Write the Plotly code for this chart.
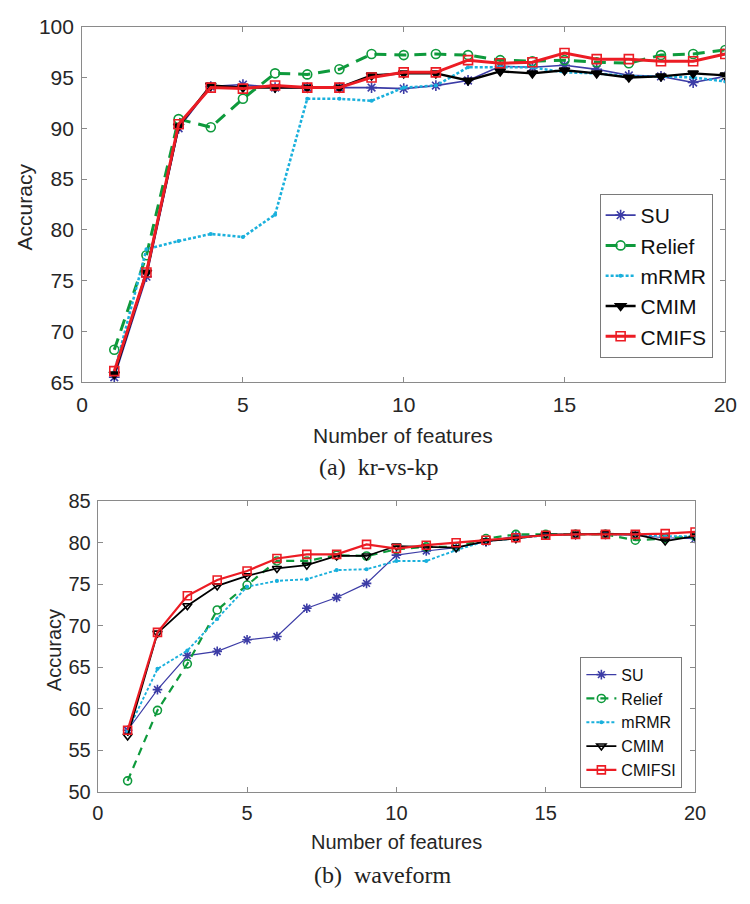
import plotly.graph_objects as go

features = list(range(1, 21))

# (a) kr-vs-kp
kr_su     = [65.5, 75.4, 90.0, 94.1, 94.3, 94.0, 94.0, 94.0, 94.0, 93.9, 94.2, 94.7, 96.1, 96.0, 96.2, 95.8, 95.2, 95.1, 94.5, 95.1]
kr_relief = [68.2, 77.5, 90.9, 90.1, 92.9, 95.4, 95.3, 95.8, 97.3, 97.2, 97.3, 97.2, 96.7, 96.6, 96.7, 96.5, 96.4, 97.2, 97.3, 97.7]
kr_mrmr   = [66.0, 78.1, 78.9, 79.6, 79.3, 81.5, 92.9, 92.9, 92.7, 94.0, 94.2, 96.0, 96.0, 96.0, 95.5, 95.4, 95.1, 95.1, 95.0, 94.6]
kr_cmim   = [65.8, 75.8, 90.2, 94.2, 94.0, 94.0, 94.0, 94.0, 95.2, 95.4, 95.4, 94.7, 95.6, 95.4, 95.7, 95.4, 95.0, 95.1, 95.4, 95.2]
kr_cmifs  = [66.1, 75.8, 90.4, 94.0, 93.9, 94.2, 94.0, 94.0, 95.0, 95.5, 95.5, 96.7, 96.4, 96.5, 97.4, 96.8, 96.8, 96.6, 96.6, 97.3]

# (b) waveform
wf_su     = [57.4, 62.3, 66.4, 66.9, 68.3, 68.7, 72.1, 73.4, 75.1, 78.5, 79.0, 79.4, 80.1, 80.8, 80.9, 81.0, 81.0, 80.9, 80.6, 80.5]
wf_relief = [51.3, 59.8, 65.4, 71.9, 74.9, 77.8, 77.8, 78.5, 78.4, 79.2, 79.5, 79.5, 80.5, 81.0, 81.0, 81.0, 81.0, 80.3, 80.5, 80.8]
wf_mrmr   = [57.3, 64.8, 67.0, 70.8, 74.7, 75.4, 75.6, 76.7, 76.8, 77.8, 77.8, 79.1, 80.2, 80.5, 80.9, 81.0, 81.0, 80.9, 80.8, 80.8]
wf_cmim   = [56.7, 69.1, 72.4, 74.8, 76.0, 76.9, 77.3, 78.4, 78.4, 79.6, 79.5, 79.4, 80.2, 80.5, 81.0, 81.0, 81.1, 81.0, 80.2, 80.8]
wf_cmifsi = [57.4, 69.2, 73.6, 75.5, 76.6, 78.1, 78.6, 78.6, 79.8, 79.3, 79.7, 80.0, 80.3, 80.6, 80.9, 81.0, 81.0, 81.0, 81.1, 81.3]

x_ticks = [0, 5, 10, 15, 20]
kr_yticks = [65, 70, 75, 80, 85, 90, 95, 100]
wf_yticks = [50, 55, 60, 65, 70, 75, 80, 85]

BLUE = "#3c3ca6"
GREEN = "#0e9a3c"
CYAN = "#1ab0dc"
BLACK = "#000000"
RED = "#ec1c24"

W, H = 750, 904

fig = go.Figure()

def add_set(ys, names, xa, ya, legend, lw, ms):
    specs = [
        (BLUE, "solid", "asterisk-open", lw * 0.55, ms),
        (GREEN, "12px,8px" if lw > 2.6 else "8px,6px", "circle-open", lw, ms),
        (CYAN, "3px,2px", "circle", lw * 0.85, 2.5),
        (BLACK, "solid", "triangle-down" if lw > 2.6 else "triangle-down-open", lw * 0.8, ms),
        (RED, "solid", "square-open", lw, ms),
    ]
    for y, name, (c, dash, sym, w, m) in zip(ys, names, specs):
        fig.add_trace(go.Scatter(
            x=features, y=y, name=name, mode="lines+markers",
            line=dict(color=c, width=w, dash=dash),
            marker=dict(symbol=sym, size=m, color=c, line=dict(color=c, width=1.6)),
            xaxis=xa, yaxis=ya, legend=legend,
        ))

add_set([kr_su, kr_relief, kr_mrmr, kr_cmim, kr_cmifs],
        ["SU", "Relief", "mRMR", "CMIM", "CMIFS"], "x", "y", "legend", 3.0, 9)
add_set([wf_su, wf_relief, wf_mrmr, wf_cmim, wf_cmifsi],
        ["SU", "Relief", "mRMR", "CMIM", "CMIFSI"], "x2", "y2", "legend2", 2.2, 8)

FONT = "Liberation Sans"
TC = "#262626"
AX = dict(showgrid=False, zeroline=False, showline=True, linecolor="#8a8a8a", linewidth=1,
          mirror="ticks", ticks="inside", ticklen=5, tickcolor="#8a8a8a")

fig.update_layout(
    width=W, height=H, margin=dict(l=0, r=0, t=0, b=0),
    paper_bgcolor="white", plot_bgcolor="white",
    showlegend=True,
    xaxis=dict(AX, domain=[78 / W, 737 / W], range=[0, 20], tickvals=x_ticks,
               ticklabelstandoff=3,
               tickfont=dict(family=FONT, size=21, color=TC), anchor="y"),
    yaxis=dict(AX, domain=[1 - 380 / H, 1 - 15 / H], range=[65, 100], tickvals=kr_yticks,
               ticklabelstandoff=3,
               tickfont=dict(family=FONT, size=21, color=TC), anchor="x"),
    xaxis2=dict(AX, domain=[94 / W, 706 / W], range=[0, 20], tickvals=x_ticks,
                ticklabelstandoff=3,
                tickfont=dict(family=FONT, size=20, color=TC), anchor="y2"),
    yaxis2=dict(AX, domain=[1 - 800 / H, 1 - 502 / H], range=[50, 85], tickvals=wf_yticks,
                ticklabelstandoff=2,
                tickfont=dict(family=FONT, size=20, color=TC), anchor="x2"),
    legend=dict(x=724 / W, y=1 - 355 / H, xanchor="right", yanchor="bottom",
                bgcolor="white", bordercolor="#7a7a7a", borderwidth=1,
                font=dict(family=FONT, size=21, color="#111111"),
                tracegroupgap=0, itemwidth=30),
    legend2=dict(x=693 / W, y=1 - 796 / H, xanchor="right", yanchor="bottom",
                 bgcolor="white", bordercolor="#7a7a7a", borderwidth=1,
                 font=dict(family=FONT, size=16, color="#111111"),
                 tracegroupgap=0, itemwidth=30),
)

def ann(text, x, y, size, family=FONT, angle=0, color=TC):
    fig.add_annotation(text=text, x=x / W, y=1 - y / H, xref="paper", yref="paper",
                       showarrow=False, textangle=angle, xanchor="center", yanchor="middle",
                       font=dict(family=family, size=size, color=color))

ann("Accuracy", 19, 200, 21, angle=-90)
ann("Number of features", 407, 435, 21)
ann("(a)  kr-vs-kp", 382, 467, 24, family="Liberation Serif", color="#222222")
ann("Accuracy", 50, 655, 20, angle=-90)
ann("Number of features", 400, 852, 20)
ann("(b)  waveform", 386, 886, 24, family="Liberation Serif", color="#222222")

fig.write_html("out.html")
